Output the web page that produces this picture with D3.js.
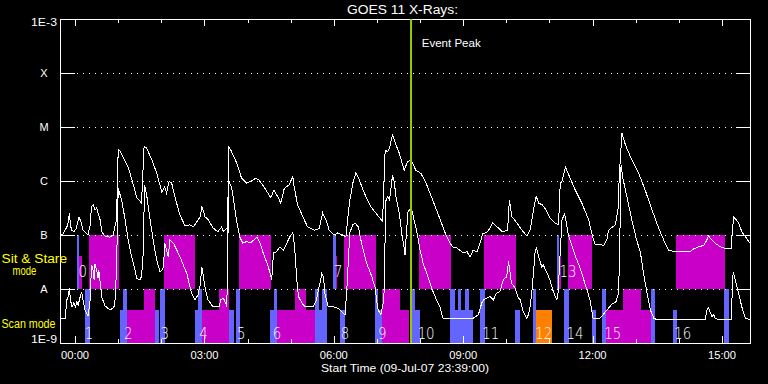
<!DOCTYPE html>
<html><head><meta charset="utf-8">
<script src="https://cdn.jsdelivr.net/npm/d3@7"></script>
<style>
html,body{margin:0;padding:0;background:#000;}
svg{display:block;}
text{font-family:"Liberation Sans",Arial,sans-serif;}
.num{font-family:"DejaVu Sans",sans-serif;font-weight:200;}
</style></head><body>
<svg id="chart" width="768" height="384"></svg>
<script>
// ---------------- DATA ----------------
const startTime = "2007-07-09T23:39:00Z";
const spanHours = 16;
const titleText = "GOES 11 X-Rays:";
const xTitle = "Start Time (09-Jul-07 23:39:00)";
const fluxLevels = [1e-9, 1e-8, 1e-7, 1e-6, 1e-5, 1e-4, 1e-3];
const fluxLabels = ["1E-9", "A", "B", "C", "M", "X", "1E-3"];
const eventPeak = 8.14;   // hours after start
const eventLabel = "Event Peak";

// GOES long channel (1-8 A): [hours after start, log10 flux W/m^2]
const longChannel = [[0,-7.00],[0.07,-6.98],[0.16,-6.85],[0.19,-6.76],[0.22,-6.59],[0.24,-6.81],[0.27,-6.91],[0.32,-6.94],[0.37,-6.89],[0.44,-6.67],[0.49,-6.76],[0.53,-6.91],[0.60,-6.96],[0.65,-7.00],[0.70,-6.81],[0.73,-6.48],[0.77,-6.44],[0.81,-6.54],[0.85,-6.50],[0.88,-6.59],[0.93,-6.72],[0.97,-6.94],[1.04,-7.02],[1.16,-7.04],[1.23,-7.00],[1.31,-6.72],[1.35,-5.41],[1.39,-5.44],[1.46,-5.55],[1.58,-5.74],[1.69,-6.04],[1.78,-6.31],[1.83,-6.35],[1.89,-6.41],[1.95,-5.36],[2.01,-5.39],[2.13,-5.61],[2.24,-5.85],[2.36,-6.20],[2.43,-6.11],[2.47,-6.22],[2.53,-6.01],[2.59,-6.04],[2.67,-6.31],[2.78,-6.63],[2.90,-6.83],[3.01,-6.81],[3.09,-6.85],[3.17,-6.76],[3.25,-6.66],[3.29,-6.48],[3.32,-6.54],[3.36,-6.66],[3.44,-6.72],[3.55,-6.87],[3.66,-6.94],[3.75,-6.85],[3.79,-6.94],[3.87,-6.87],[3.90,-6.96],[3.91,-5.35],[3.98,-5.46],[4.10,-5.67],[4.21,-5.95],[4.33,-6.04],[4.41,-6.01],[4.54,-5.95],[4.61,-5.98],[4.73,-6.11],[4.89,-6.31],[4.96,-6.17],[5.05,-6.29],[5.12,-6.41],[5.20,-6.14],[5.31,-6.07],[5.40,-5.92],[5.43,-6.11],[5.51,-6.44],[5.63,-6.66],[5.74,-6.85],[5.90,-6.91],[6.01,-6.88],[6.09,-6.59],[6.17,-6.72],[6.24,-6.91],[6.36,-7.00],[6.44,-6.96],[6.55,-7.00],[6.63,-7.03],[6.71,-6.41],[6.79,-6.04],[6.86,-5.85],[6.94,-5.98],[7.06,-6.23],[7.21,-6.48],[7.33,-6.60],[7.48,-6.75],[7.54,-5.43],[7.60,-5.46],[7.64,-5.39],[7.71,-5.15],[7.79,-5.33],[7.87,-5.49],[7.98,-5.80],[8.06,-5.64],[8.14,-5.61],[8.25,-5.80],[8.37,-5.86],[8.49,-6.04],[8.64,-6.35],[8.79,-6.66],[8.95,-7.00],[9.04,-7.15],[9.11,-7.22],[9.20,-7.24],[9.27,-7.28],[9.34,-7.33],[9.44,-7.31],[9.51,-7.41],[9.58,-7.28],[9.67,-7.31],[9.74,-7.15],[9.80,-6.98],[9.92,-6.94],[10.03,-6.78],[10.11,-6.83],[10.26,-6.94],[10.38,-6.91],[10.42,-6.35],[10.48,-6.66],[10.60,-6.78],[10.71,-6.91],[10.83,-7.02],[10.90,-6.91],[10.98,-6.54],[11.04,-6.28],[11.10,-6.41],[11.18,-6.44],[11.25,-6.51],[11.37,-6.69],[11.48,-6.78],[11.56,-6.81],[11.60,-6.04],[11.64,-6.01],[11.72,-5.74],[11.83,-5.95],[11.95,-6.17],[12.10,-6.41],[12.26,-6.72],[12.34,-7.00],[12.41,-7.17],[12.61,-7.19],[12.68,-7.09],[12.72,-6.91],[12.88,-6.81],[12.94,-6.51],[12.97,-5.89],[13.03,-5.11],[13.11,-5.33],[13.26,-5.61],[13.42,-5.86],[13.57,-6.17],[13.73,-6.54],[13.88,-6.87],[13.96,-7.02],[14.03,-7.15],[14.11,-7.28],[14.27,-7.31],[14.61,-7.31],[14.69,-7.26],[14.81,-7.22],[14.93,-7.19],[15.00,-7.09],[15.04,-7.02],[15.08,-7.06],[15.12,-7.09],[15.19,-7.15],[15.31,-7.22],[15.43,-7.25],[15.56,-7.25],[15.62,-6.66],[15.74,-6.78],[15.81,-6.94],[15.89,-7.03],[16.00,-7.15]];

// GOES short channel (0.5-4 A): [hours after start, log10 flux W/m^2]
const shortChannel = [[0,-8.54],[0.12,-8.54],[0.16,-8.20],[0.19,-8.14],[0.22,-7.98],[0.24,-8.20],[0.28,-8.33],[0.32,-8.26],[0.36,-8.33],[0.39,-8.24],[0.42,-8.30],[0.46,-8.17],[0.50,-8.05],[0.54,-8.24],[0.58,-8.39],[0.65,-8.50],[0.70,-8.20],[0.73,-7.56],[0.76,-7.61],[0.79,-7.83],[0.81,-7.54],[0.85,-7.65],[0.88,-7.80],[0.90,-7.65],[0.93,-7.87],[0.97,-8.15],[1.04,-8.31],[1.16,-8.39],[1.23,-8.35],[1.27,-8.30],[1.31,-7.65],[1.35,-6.14],[1.43,-6.35],[1.51,-6.72],[1.58,-7.09],[1.66,-7.40],[1.74,-7.65],[1.78,-7.80],[1.85,-7.83],[1.89,-7.77],[1.93,-7.33],[1.96,-6.07],[2.01,-6.26],[2.09,-6.72],[2.16,-7.09],[2.24,-7.46],[2.32,-7.68],[2.36,-7.65],[2.40,-7.59],[2.43,-7.15],[2.47,-7.28],[2.51,-7.40],[2.55,-7.09],[2.63,-7.15],[2.78,-7.40],[2.94,-7.71],[3.05,-8.08],[3.13,-8.20],[3.20,-8.11],[3.25,-7.93],[3.29,-7.59],[3.32,-7.74],[3.36,-7.96],[3.43,-8.20],[3.55,-8.33],[3.69,-8.33],[3.73,-8.20],[3.79,-8.17],[3.83,-8.24],[3.87,-8.33],[3.90,-5.98],[3.98,-6.11],[4.10,-6.76],[4.17,-7.04],[4.24,-7.15],[4.33,-7.12],[4.41,-7.15],[4.50,-7.09],[4.57,-7.04],[4.64,-7.15],[4.71,-7.33],[4.80,-7.52],[4.87,-7.70],[4.91,-7.83],[4.95,-7.33],[5.02,-7.31],[5.10,-7.22],[5.18,-7.28],[5.26,-7.15],[5.33,-7.03],[5.40,-6.96],[5.43,-7.15],[5.45,-7.33],[5.49,-7.83],[5.53,-8.14],[5.61,-8.26],[5.68,-8.33],[5.87,-8.33],[5.95,-8.20],[5.99,-8.02],[6.03,-7.89],[6.07,-7.71],[6.11,-7.77],[6.14,-8.08],[6.22,-8.33],[6.34,-8.33],[6.45,-8.36],[6.57,-8.45],[6.61,-8.48],[6.65,-8.02],[6.72,-6.96],[6.79,-6.81],[6.84,-6.78],[6.92,-6.85],[6.96,-7.03],[7.03,-7.28],[7.11,-7.52],[7.23,-7.77],[7.31,-7.98],[7.34,-8.20],[7.38,-8.39],[7.44,-8.48],[7.51,-8.20],[7.54,-7.00],[7.56,-6.35],[7.60,-6.29],[7.64,-6.35],[7.68,-6.11],[7.71,-5.89],[7.75,-6.01],[7.79,-6.29],[7.87,-6.60],[7.93,-7.00],[7.98,-7.24],[8.00,-7.37],[8.03,-7.00],[8.07,-6.57],[8.12,-6.52],[8.16,-6.54],[8.21,-6.72],[8.28,-6.96],[8.35,-7.28],[8.42,-7.52],[8.50,-7.70],[8.58,-7.89],[8.66,-8.07],[8.73,-8.20],[8.81,-8.33],[8.88,-8.54],[9.58,-8.54],[9.70,-8.48],[9.78,-8.26],[9.82,-8.20],[9.89,-8.17],[9.97,-8.14],[10.05,-8.20],[10.12,-8.08],[10.20,-8.05],[10.28,-7.83],[10.36,-7.77],[10.40,-7.49],[10.47,-7.89],[10.55,-7.98],[10.62,-8.15],[10.67,-8.20],[10.73,-8.39],[10.82,-8.54],[10.86,-8.48],[10.90,-8.33],[10.94,-8.07],[10.99,-7.59],[11.02,-7.28],[11.05,-7.24],[11.11,-7.43],[11.17,-7.59],[11.21,-7.56],[11.28,-7.68],[11.36,-7.83],[11.44,-8.05],[11.52,-8.20],[11.55,-8.07],[11.59,-7.46],[11.64,-6.72],[11.70,-6.61],[11.73,-6.72],[11.79,-7.00],[11.94,-7.37],[12.06,-7.61],[12.17,-7.89],[12.29,-8.20],[12.36,-8.54],[12.52,-8.54],[12.59,-8.48],[12.68,-8.39],[12.80,-8.28],[12.89,-8.24],[12.94,-8.11],[12.97,-7.65],[13.01,-5.70],[13.05,-5.94],[13.15,-6.31],[13.26,-6.72],[13.36,-7.06],[13.46,-7.33],[13.53,-7.70],[13.61,-8.07],[13.69,-8.39],[13.77,-8.54],[13.84,-8.57],[14.96,-8.57],[15.00,-8.39],[15.04,-8.34],[15.08,-8.44],[15.12,-8.51],[15.16,-8.48],[15.19,-8.54],[15.27,-8.57],[15.56,-8.57],[15.61,-7.68],[15.70,-7.96],[15.81,-8.33],[15.89,-8.54],[16.00,-8.57]];

// Observation blocks: [start h, end h, type, height]  (b = scan, m = sit&stare, o = other)
const sitStareRow = [[0.39,0.44,"b","tall"],[0.44,0.50,"m","short"],[0.68,1.37,"m","tall"],[2.41,3.13,"m","tall"],[4.16,4.89,"m","tall"],[6.32,6.40,"b","tall"],[6.40,6.43,"m","short"],[6.58,7.32,"m","tall"],[8.33,9.06,"m","tall"],[9.83,10.57,"m","tall"],[11.52,11.57,"b","tall"],[11.57,11.61,"m","short"],[11.79,12.33,"m","tall"],[14.28,15.42,"m","tall"]];
const scanRow = [[0.58,0.70,"b","tall"],[1.39,1.55,"b","short"],[1.47,1.55,"b","tall"],[1.55,2.20,"m","short"],[1.95,2.20,"m","tall"],[2.20,2.30,"b","short"],[2.32,2.43,"b","tall"],[3.13,3.30,"b","short"],[3.21,3.30,"b","tall"],[3.30,3.93,"m","short"],[3.69,3.93,"m","tall"],[3.93,4.03,"b","short"],[4.08,4.17,"b","tall"],[4.87,4.96,"b","short"],[4.96,5.04,"b","tall"],[5.04,5.91,"m","short"],[5.45,5.70,"m","tall"],[5.91,6.01,"b","tall"],[6.01,6.07,"b","short"],[6.07,6.20,"b","tall"],[6.49,6.61,"b","short"],[7.30,7.38,"b","tall"],[7.38,7.47,"b","short"],[7.47,8.10,"m","short"],[7.47,7.88,"m","tall"],[8.16,8.23,"b","tall"],[8.23,8.35,"b","short"],[9.04,9.58,"b","short"],[9.04,9.16,"b","tall"],[9.22,9.29,"b","tall"],[9.39,9.48,"b","tall"],[9.75,9.85,"b","tall"],[10.55,10.67,"b","short"],[10.97,11.04,"b","tall"],[11.04,11.40,"o","short"],[11.69,11.80,"b","tall"],[12.33,12.43,"b","short"],[12.57,12.67,"b","tall"],[12.67,13.70,"m","short"],[13.05,13.47,"m","tall"],[13.70,13.80,"b","tall"],[14.21,14.31,"b","short"],[15.39,15.51,"b","tall"]];

// Pointing numbers: [label, centre time h, row]
const pointingLabels = [["0",0.53,"sit"],["1",0.67,"scan"],["2",1.58,"scan"],["3",2.43,"scan"],["4",3.33,"scan"],["5",4.20,"scan"],["6",5.03,"scan"],["7",6.45,"sit"],["8",6.61,"scan"],["9",7.47,"scan"],["10",8.49,"scan"],["11",9.99,"scan"],["12",11.22,"scan"],["13",11.78,"sit"],["14",11.94,"scan"],["15",12.82,"scan"],["16",14.44,"scan"]];

// ---------------- DRAW ----------------
const colors = {b:"#6464ff", m:"#c800c8", o:"#ff8000"};
const t0 = new Date(startTime);
const T = h => new Date(t0.getTime() + h*3600000);
const svg = d3.select("#chart");
svg.append("rect").attr("width",768).attr("height",384).attr("fill","#000");

const x = d3.scaleUtc().domain([t0, T(spanHours)]).range([60, 750]);
const y = d3.scaleLog().domain([1e-9, 1e-3]).range([343, 19]);
const L = v => Math.pow(10, v);
const shortFrac = 0.61;

function drawRow(rows, lo, hi){
  const yb = y(lo), yt = y(hi);
  svg.append("g").selectAll("rect").data(rows).join("rect")
    .attr("x", d => x(T(d[0])))
    .attr("width", d => x(T(d[1])) - x(T(d[0])))
    .attr("y", d => d[3]==="tall" ? yt : yb - (yb-yt)*shortFrac)
    .attr("height", d => d[3]==="tall" ? yb-yt : (yb-yt)*shortFrac)
    .attr("fill", d => colors[d[2]])
    .attr("shape-rendering","crispEdges");
}
drawRow(sitStareRow, fluxLevels[1], fluxLevels[2]);
drawRow(scanRow, fluxLevels[0], fluxLevels[1]);

// gridlines (dotted) and side ticks
const inner = fluxLevels.slice(1, -1);
const g = svg.append("g").attr("shape-rendering","crispEdges");
g.selectAll("line.grid").data(inner).join("line")
  .attr("x1", 77).attr("x2", 736)
  .attr("y1", d => Math.round(y(d))+0.5).attr("y2", d => Math.round(y(d))+0.5)
  .attr("stroke","#fff").attr("stroke-dasharray","1 5");
g.selectAll("line.lt").data(inner).join("line")
  .attr("x1", 60).attr("x2", 75)
  .attr("y1", d => Math.round(y(d))+0.5).attr("y2", d => Math.round(y(d))+0.5)
  .attr("stroke","#fff");
g.selectAll("line.rt").data(inner).join("line")
  .attr("x1", 736).attr("x2", 750)
  .attr("y1", d => Math.round(y(d))+0.5).attr("y2", d => Math.round(y(d))+0.5)
  .attr("stroke","#fff");

// curves
const line = d3.line().x(d => x(T(d[0]))).y(d => y(L(d[1])));
[longChannel, shortChannel].forEach(series => {
  svg.append("path").datum(series).attr("d", line)
    .attr("fill","none").attr("stroke","#fff").attr("stroke-width",1)
    .attr("shape-rendering","crispEdges");
});

// frame
svg.append("rect").attr("x",60.5).attr("y",19.5).attr("width",690).attr("height",324)
  .attr("fill","none").attr("stroke","#fff").attr("shape-rendering","crispEdges");

// time ticks
const minor = x.ticks(d3.utcHour.every(1));
const major = x.ticks(d3.utcHour.every(3));
const isMajor = d => d.getUTCHours() % 3 === 0;
const tk = svg.append("g").attr("shape-rendering","crispEdges").attr("stroke","#fff");
minor.forEach(d => {
  const xx = Math.round(x(d)) + 0.5, len = isMajor(d) ? 7 : 4;
  tk.append("line").attr("x1",xx).attr("x2",xx).attr("y1",19).attr("y2",19+len);
  tk.append("line").attr("x1",xx).attr("x2",xx).attr("y1",343).attr("y2",343-len);
});
svg.append("g").selectAll("text").data(major).join("text")
  .attr("x", d => x(d)).attr("y", 358.5)
  .attr("text-anchor","middle").attr("fill","#fff").attr("font-size",10.5)
  .attr("textLength", 28).attr("lengthAdjust","spacingAndGlyphs")
  .text(d3.utcFormat("%H:%M"));

// y labels
svg.append("g").selectAll("text").data(fluxLevels).join("text")
  .attr("x", 44)
  .attr("y", (d,i) => i===fluxLevels.length-1 ? y(d)+7.3 : (i===0 ? y(d)+0.3 : y(d)+4))
  .attr("text-anchor","middle").attr("fill","#fff").attr("font-size",11)
  .each(function(d,i){ const s=fluxLabels[i]; if(s.length>1) d3.select(this).attr("textLength",26).attr("lengthAdjust","spacingAndGlyphs"); })
  .text((d,i) => fluxLabels[i]);

// titles
svg.append("text").attr("x",347).attr("y",14).attr("fill","#fff").attr("font-size",12.5)
  .attr("textLength",111).attr("lengthAdjust","spacingAndGlyphs").text(titleText);
svg.append("text").attr("x",321).attr("y",371.5).attr("fill","#fff").attr("font-size",11.5)
  .attr("textLength",168).attr("lengthAdjust","spacingAndGlyphs").text(xTitle);

// side labels
const yel = "#ffff00";
svg.append("text").attr("x",1.5).attr("y",262.7).attr("fill",yel).attr("font-size",12.5)
  .attr("textLength",65.5).attr("lengthAdjust","spacingAndGlyphs").text("Sit & Stare");
svg.append("text").attr("x",12.5).attr("y",275.3).attr("fill",yel).attr("font-size",12.5)
  .attr("textLength",23.8).attr("lengthAdjust","spacingAndGlyphs").text("mode");
svg.append("text").attr("x",1.5).attr("y",327.8).attr("fill",yel).attr("font-size",12.5)
  .attr("textLength",54).attr("lengthAdjust","spacingAndGlyphs").text("Scan mode");

// pointing numbers
svg.append("g").selectAll("text").data(pointingLabels).join("text")
  .attr("class","num")
  .attr("x", d => x(T(d[1])))
  .attr("y", d => d[2]==="sit" ? y(fluxLevels[1]) - 12 : y(fluxLevels[0]) - 3.7)
  .attr("text-anchor","middle").attr("fill","#fff").attr("font-size",16.5)
  .attr("textLength", d => d[0].length > 1 ? 17 : 8.5).attr("lengthAdjust","spacingAndGlyphs")
  .text(d => d[0]);

// event peak
const ex = x(T(eventPeak));
svg.append("line").attr("x1",ex).attr("x2",ex).attr("y1",19).attr("y2",343)
  .attr("stroke","#99cc00").attr("stroke-width",2);
svg.append("text").attr("x",421.7).attr("y",46.7).attr("fill","#fff").attr("font-size",11)
  .attr("textLength",59).attr("lengthAdjust","spacingAndGlyphs").text(eventLabel);
</script>
</body></html>
